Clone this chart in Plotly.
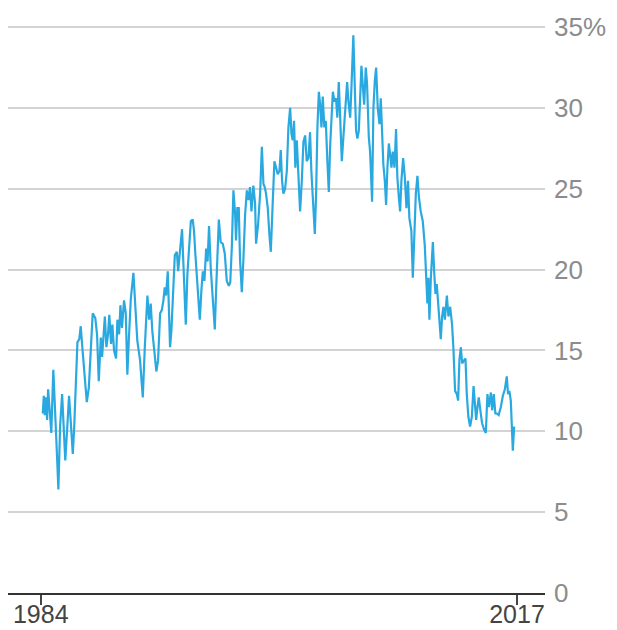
import plotly.graph_objects as go

# Decimal year of each traced point
years = [
    1984.14, 1984.21, 1984.28, 1984.37, 1984.44, 1984.51, 1984.62, 1984.73, 1984.87,
    1985.01, 1985.13, 1985.22, 1985.34, 1985.48, 1985.59, 1985.70, 1985.84, 1985.96,
    1986.10, 1986.22, 1986.31, 1986.45, 1986.54, 1986.67, 1986.77, 1986.88,
    1987.05, 1987.19, 1987.33, 1987.47, 1987.60, 1987.78, 1987.90,
    1988.02, 1988.16, 1988.25, 1988.44, 1988.55, 1988.66, 1988.75, 1988.87, 1988.96,
    1989.08, 1989.22, 1989.31, 1989.43, 1989.52, 1989.63, 1989.77, 1989.89,
    1990.00, 1990.10, 1990.24, 1990.42, 1990.69, 1990.88, 1990.97,
    1991.07, 1991.21, 1991.39, 1991.51, 1991.62, 1991.73, 1991.90,
    1992.01, 1992.13, 1992.27, 1992.39, 1992.50, 1992.59, 1992.68, 1992.80, 1992.89, 1992.96,
    1993.05, 1993.19, 1993.29, 1993.43, 1993.52, 1993.61, 1993.79, 1993.93,
    1994.05, 1994.16, 1994.28, 1994.40, 1994.53, 1994.62, 1994.71, 1994.85,
    1995.02, 1995.13, 1995.23, 1995.34, 1995.46, 1995.56, 1995.66, 1995.78, 1995.92,
    1996.06, 1996.15, 1996.24, 1996.34, 1996.47, 1996.61, 1996.75, 1996.89,
    1997.03, 1997.13, 1997.24, 1997.35, 1997.47, 1997.53, 1997.62, 1997.72, 1997.81, 1997.93,
    1998.04, 1998.16, 1998.28, 1998.39, 1998.50, 1998.60, 1998.73, 1998.85, 1998.92,
    1999.06, 1999.20, 1999.32, 1999.43, 1999.52, 1999.61, 1999.73, 1999.84, 1999.94,
    2000.08, 2000.19, 2000.31, 2000.42, 2000.54, 2000.63, 2000.72, 2000.81, 2000.93,
    2001.05, 2001.16, 2001.28, 2001.37, 2001.46, 2001.55, 2001.64, 2001.74, 2001.85, 2001.97,
    2002.09, 2002.20, 2002.32, 2002.43, 2002.55, 2002.66, 2002.75, 2002.89, 2002.99,
    2003.08, 2003.17, 2003.27, 2003.36, 2003.45, 2003.54, 2003.65, 2003.75, 2003.86, 2003.96,
    2004.05, 2004.14, 2004.24, 2004.35, 2004.46, 2004.55, 2004.65, 2004.74, 2004.86, 2004.97,
    2005.09, 2005.23, 2005.32, 2005.44, 2005.53, 2005.66, 2005.76, 2005.85, 2005.94,
    2006.04, 2006.13, 2006.22, 2006.32, 2006.41, 2006.52, 2006.61, 2006.73, 2006.82, 2006.96,
    2007.05, 2007.15, 2007.24, 2007.35, 2007.47, 2007.56, 2007.65, 2007.74, 2007.84, 2007.93,
    2008.02, 2008.12, 2008.21, 2008.30, 2008.39, 2008.51, 2008.62, 2008.71, 2008.81, 2008.90, 2008.99,
    2009.11, 2009.23, 2009.34, 2009.45, 2009.54, 2009.68, 2009.78, 2009.89, 2009.99,
    2010.10, 2010.20, 2010.33, 2010.47, 2010.61, 2010.70, 2010.79, 2010.86, 2010.93,
    2011.03, 2011.17, 2011.26, 2011.35, 2011.44, 2011.53, 2011.62, 2011.72, 2011.81, 2011.90,
    2012.00, 2012.14, 2012.25, 2012.37, 2012.50, 2012.59, 2012.71, 2012.83, 2012.92,
    2013.01, 2013.11, 2013.20, 2013.34, 2013.43, 2013.52, 2013.63, 2013.75, 2013.87, 2013.99,
    2014.08, 2014.17, 2014.26, 2014.35, 2014.49, 2014.58, 2014.72, 2014.84, 2014.95,
    2015.05, 2015.19, 2015.28, 2015.39, 2015.50, 2015.60, 2015.73, 2015.88,
    2016.02, 2016.16, 2016.29, 2016.38, 2016.47, 2016.57, 2016.66, 2016.71, 2016.80,
]

# Share (%)
share = [
    11.1, 12.2, 11.0, 12.1, 10.7, 12.6, 11.3, 9.9, 13.8,
    11.3, 8.4, 6.4, 10.3, 12.3, 10.3, 8.2, 10.3, 12.2,
    10.3, 8.6, 10.1, 13.6, 15.5, 15.7, 16.5, 15.2,
    13.4, 11.8, 12.7, 14.8, 17.3, 17.0, 16.0,
    13.1, 15.8, 14.6, 17.1, 15.2, 16.0, 17.2, 15.4, 16.6,
    15.0, 14.5, 16.9, 16.0, 17.8, 16.4, 18.1, 17.3,
    13.5, 15.6, 18.2, 19.8, 15.6, 14.4, 13.1,
    12.1, 15.2, 18.4, 16.9, 17.9, 16.2, 14.4,
    13.7, 14.4, 17.3, 17.5, 18.1, 18.9, 18.4, 19.9, 16.9, 15.2,
    16.2, 19.3, 20.9, 21.1, 19.9, 20.8, 22.5, 19.3,
    16.6, 19.7, 21.8, 23.0, 23.1, 22.4, 21.0, 18.9,
    16.9, 18.7, 19.9, 19.3, 21.3, 20.5, 22.7, 20.1, 18.3,
    16.3, 18.7, 21.4, 23.1, 21.7, 21.6, 21.0, 19.3,
    19.0, 19.2, 21.4, 24.9, 23.4, 21.8, 23.8, 23.8, 20.6, 18.6,
    20.6, 23.4, 24.9, 24.3, 25.1, 23.6, 25.2, 24.1, 21.6,
    22.8, 24.7, 27.6, 25.3, 25.1, 24.7, 23.8, 22.2, 21.1,
    24.3, 26.7, 26.3, 25.9, 26.1, 27.4, 25.5, 24.7, 25.0,
    26.1, 28.8, 30.0, 28.4, 28.0, 29.2, 26.3, 28.0, 25.9, 23.6,
    25.5, 27.9, 28.3, 26.7, 26.9, 28.5, 26.1, 23.8, 22.2,
    24.7, 28.8, 31.0, 30.2, 28.8, 30.7, 28.8, 29.2, 26.7, 24.8,
    27.6, 29.4, 31.0, 30.4, 30.6, 29.4, 31.6, 29.6, 26.7, 28.2,
    29.8, 31.6, 30.4, 29.4, 31.3, 34.5, 31.3, 28.6, 28.1,
    28.6, 30.6, 32.6, 31.3, 30.2, 32.5, 31.5, 28.2, 27.3, 24.2,
    30.0, 31.7, 32.5, 30.0, 29.0, 30.6, 28.4, 26.5, 25.5, 24.0,
    26.3, 27.8, 27.1, 26.3, 27.3, 26.3, 28.7, 25.7, 24.5, 23.6, 25.5,
    26.9, 25.7, 23.8, 25.5, 23.2, 22.4, 19.5, 22.2, 24.7,
    25.8, 24.5, 23.6, 23.0, 21.5, 19.5, 17.9, 19.5, 16.9,
    19.5, 21.7, 19.9, 18.5, 19.1, 18.1, 17.1, 15.7, 17.1, 17.7,
    16.9, 18.4, 17.1, 17.7, 16.6, 15.2, 12.5, 12.3, 11.9,
    14.4, 15.2, 14.2, 14.4, 14.5, 12.3, 10.9, 10.3, 10.9, 12.8,
    11.5, 10.7, 11.5, 12.1, 11.1, 10.5, 10.1, 9.9, 12.3,
    11.5, 12.4, 11.3, 12.3, 11.1, 11.1, 11.0, 11.5,
    12.2, 12.6, 13.4, 12.3, 12.5, 11.9, 10.3, 8.8, 10.3,
]

y_ticks = [0, 5, 10, 15, 20, 25, 30, 35]
y_labels = ["0", "5", "10", "15", "20", "25", "30", "35%"]
x_ticks = [1984, 2017]
x_labels = ["1984", "2017"]

fig = go.Figure()
fig.add_trace(go.Scatter(
    x=years, y=share, mode="lines",
    line=dict(color="#2aa9e0", width=2.2),
    hoverinfo="skip",
))

fig.update_layout(
    width=609, height=622,
    margin=dict(l=0, r=72, t=11, b=37, autoexpand=False),
    paper_bgcolor="white", plot_bgcolor="white",
    showlegend=False,
    font=dict(family="Liberation Sans, Arial, sans-serif"),
)
fig.update_xaxes(
    range=[1981.73, 2018.94],
    tickvals=x_ticks, ticktext=x_labels,
    ticks="outside", ticklen=10, tickwidth=2, tickcolor="#444",
    ticklabelstandoff=-12,
    showline=True, linecolor="#333", linewidth=2,
    showgrid=False, zeroline=False, automargin=False,
    tickfont=dict(size=25, color="#444"),
)
fig.update_yaxes(
    range=[0, 35.5], side="right",
    tickvals=y_ticks, ticktext=y_labels,
    ticks="", ticklabelstandoff=8,
    showgrid=True, gridcolor="#d3d3d3", gridwidth=2,
    showline=False, zeroline=False, automargin=False,
    tickfont=dict(size=26, color="#8c8c8c"),
)

fig.write_html("out.html")
